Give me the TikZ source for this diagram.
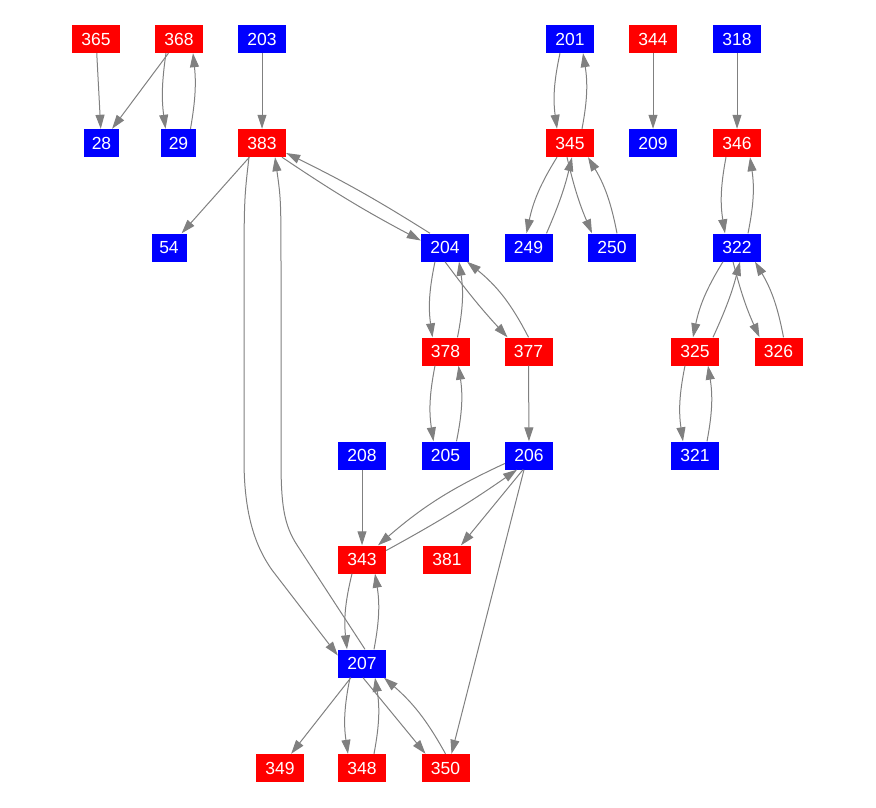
\documentclass[tikz,border=0pt]{standalone}
\usepackage{fontspec}
\setmainfont{Liberation Sans}
\usetikzlibrary{arrows.meta}
\tikzset{
  nd/.style={rectangle, inner sep=0pt, minimum height=28pt, text=white, font=\fontsize{17.5}{17.5}\selectfont},
  rn/.style={nd, fill=red, minimum width=48pt},
  bn/.style={nd, fill=blue, minimum width=48pt},
  bsn/.style={nd, fill=blue, minimum width=35pt},
  e/.style={draw=gray, line width=1pt, -{Triangle[length=14pt,width=9pt]}}
}
\begin{document}
\begin{tikzpicture}[x=1pt,y=-1pt]
\useasboundingbox (0,0) rectangle (876,808);
% row 1
\node[rn] (n365) at (96,39) {365};
\node[rn] (n368) at (179,39) {368};
\node[bn] (n203) at (262,39) {203};
\node[bn] (n201) at (570,39) {201};
\node[rn] (n344) at (653,39) {344};
\node[bn] (n318) at (737,39) {318};
% row 2
\node[bsn] (n28) at (101.5,143) {28};
\node[bsn] (n29) at (178.5,143) {29};
\node[rn] (n383) at (262,143) {383};
\node[rn] (n345) at (570,143) {345};
\node[bn] (n209) at (653,143) {209};
\node[rn] (n346) at (737,143) {346};
% row 3
\node[bsn] (n54) at (169,247.5) {54};
\node[bn] (n204) at (445,247.5) {204};
\node[bn] (n249) at (528.5,247.5) {249};
\node[bn] (n250) at (612,247.5) {250};
\node[bn] (n322) at (737,247.5) {322};
% row 4
\node[rn] (n378) at (445.5,351.5) {378};
\node[rn] (n377) at (528.5,351.5) {377};
\node[rn] (n325) at (695,351.5) {325};
\node[rn] (n326) at (778.5,351.5) {326};
% row 5
\node[bn] (n208) at (362,455.5) {208};
\node[bn] (n205) at (445.5,455.5) {205};
\node[bn] (n206) at (529,455.5) {206};
\node[bn] (n321) at (695,455.5) {321};
% row 6
\node[rn] (n343) at (362,559.5) {343};
\node[rn] (n381) at (447,559.5) {381};
% row 7
\node[bn] (n207) at (362,663.5) {207};
% row 8
\node[rn] (n349) at (280,768) {349};
\node[rn] (n348) at (362,768) {348};
\node[rn] (n350) at (445.5,768) {350};

% edges
\draw[e] (n365) -- (n28);
\draw[e] (n368) -- (n28);
\draw[e] ([xshift=-13pt]n368.south) to[bend right=8] ([xshift=-13pt]n29.north);
\draw[e] ([xshift=12pt]n29.north) to[bend right=8] ([xshift=14pt]n368.south);
\draw[e] (n203) -- (n383);
\draw[e] (n383) -- (n54);
\draw[e] ([xshift=20pt]n383.south) to[bend right=3] ([yshift=7pt]n204.west);
\draw[e] ([xshift=-15pt]n204.north) to[bend right=3] ([yshift=-10pt]n383.east);
\draw[e] ([xshift=-13pt]n383.south) .. controls (244,200) .. (244,300) -- (244,460)
   .. controls (244,520) and (258,550) .. (272,570) -- ([yshift=8pt]n207.west);
\draw[e] ([xshift=3pt]n207.north) -- (297,545) .. controls (284,525) and (281,505) .. (281,460)
   -- (281,280) .. controls (281,200) .. ([xshift=13pt]n383.south);
% 201/345 group
\draw[e] ([xshift=-10pt]n201.south) to[bend right=10] ([xshift=-13pt]n345.north);
\draw[e] ([xshift=12pt]n345.north) to[bend right=10] ([xshift=13pt]n201.south);
\draw[e] (n344) -- (n209);
\draw[e] (n318) -- (n346);
\draw[e] ([xshift=-13pt]n345.south) to[bend right=10] ([xshift=-2pt]n249.north);
\draw[e] ([xshift=18pt]n249.north) to[bend right=5] ([xshift=2pt]n345.south);
\draw[e] ([xshift=-3pt]n345.south) to[bend right=5] ([xshift=-20pt]n250.north);
\draw[e] ([xshift=5pt]n250.north) to[bend right=10] ([xshift=18pt]n345.south);
% 346/322 group
\draw[e] ([xshift=-11pt]n346.south) to[bend right=10] ([xshift=-12pt]n322.north);
\draw[e] ([xshift=11pt]n322.north) to[bend right=10] ([xshift=13pt]n346.south);
\draw[e] ([xshift=-14pt]n322.south) to[bend right=10] ([xshift=-2pt]n325.north);
\draw[e] ([xshift=18pt]n325.north) to[bend right=5] ([xshift=3pt]n322.south);
\draw[e] ([xshift=-4pt]n322.south) to[bend right=5] ([xshift=-19pt]n326.north);
\draw[e] ([xshift=5pt]n326.north) to[bend right=10] ([xshift=18pt]n322.south);
\draw[e] ([xshift=-10pt]n325.south) to[bend right=10] ([xshift=-12pt]n321.north);
\draw[e] ([xshift=12pt]n321.north) to[bend right=10] ([xshift=13pt]n325.south);
% 204 group
\draw[e] ([xshift=-10pt]n204.south) to[bend right=10] ([xshift=-13pt]n378.north);
\draw[e] ([xshift=12pt]n378.north) to[bend right=10] ([xshift=14pt]n204.south);
\draw[e] (n204.south) to[bend right=3] ([xshift=-21pt]n377.north);
\draw[e] (n377.north) to[bend right=12] ([xshift=22pt]n204.south);
\draw[e] ([xshift=-10.5pt]n378.south) to[bend right=10] ([xshift=-12pt]n205.north);
\draw[e] ([xshift=11pt]n205.north) to[bend right=10] ([xshift=13pt]n378.south);
\draw[e] (n377) -- (n206);
\draw[e] (n208) -- (n343);
% 206 group
\draw[e] ([yshift=-8pt]n206.west) to[bend right=8] ([xshift=16pt]n343.north);
\draw[e] ([yshift=9pt]n343.east) to[bend right=3] ([xshift=-12pt]n206.south);
\draw[e] ([xshift=-6pt]n206.south) -- ([xshift=14pt]n381.north);
\draw[e] ([xshift=-5pt]n206.south) -- ([xshift=6pt]n350.north);
% 207 group
\draw[e] ([xshift=-10pt]n343.south) to[bend right=10] ([xshift=-15pt]n207.north);
\draw[e] ([xshift=12pt]n207.north) to[bend right=10] ([xshift=13pt]n343.south);
\draw[e] (n207) -- (n349);
\draw[e] ([xshift=-12pt]n207.south) to[bend right=10] ([xshift=-14pt]n348.north);
\draw[e] ([xshift=12pt]n348.north) to[bend right=10] ([xshift=13pt]n207.south);
\draw[e] ([xshift=1pt]n207.south) -- ([xshift=-20pt]n350.north);
\draw[e] (n350.north) to[bend right=10] ([xshift=22pt]n207.south);
\end{tikzpicture}
\end{document}
